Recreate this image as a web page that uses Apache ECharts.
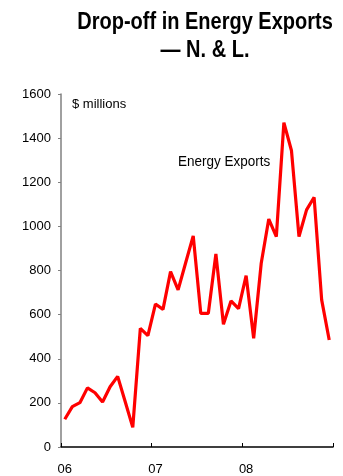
<!DOCTYPE html>
<html lang="en">
<head>
  <meta charset="UTF-8">
  <title>Drop-off in Energy Exports</title>
  <script src="https://cdn.jsdelivr.net/npm/echarts@6/dist/echarts.min.js"></script>
  <style>
    html, body { margin: 0; padding: 0; background: #fff; }
  </style>
</head>
<body>
  <div id="app" style="width: 343px; height: 476px;"></div>
  <script>
    // monthly, Jan 2006 - Dec 2008, $ millions
    var months = []
    var years = ['06', '07', '08']
    years.forEach(function (y) {
      for (var m = 1; m <= 12; m++) months.push(y + '-' + m)
    })
    var exportsData = [
      126, 183, 201, 268, 246, 204, 273, 320, 205, 89, 538, 505,
      648, 624, 795, 712, 835, 957, 606, 606, 875, 556, 662, 627,
      777, 493, 833, 1033, 954, 1470, 1344, 954, 1075, 1132, 667, 485
    ]
    var yTicks = { min: 0, max: 1600, interval: 200 }

    var font = 'Liberation Sans, Arial, sans-serif'
    var mCharts = echarts.init(document.querySelector('#app'))

    var option = {
      animation: false,
      grid: { left: 61, right: 10, top: 94, bottom: 29 },
      graphic: [
        {
          type: 'text', x: 205, y: 23, scaleY: 1.15,
          style: { text: 'Drop-off in Energy Exports', font: 'bold 20px ' + font, fill: '#000', align: 'center', verticalAlign: 'middle' }
        },
        {
          type: 'text', x: 205, y: 51, scaleY: 1.15,
          style: { text: '— N. & L.', font: 'bold 20px ' + font, fill: '#000', align: 'center', verticalAlign: 'middle' }
        },
        {
          type: 'text', x: 72, y: 104,
          style: { text: '$ millions', font: '13px ' + font, fill: '#000', verticalAlign: 'middle' }
        },
        {
          type: 'text', x: 178, y: 162, scaleY: 1.1,
          style: { text: 'Energy Exports', font: '13.5px ' + font, fill: '#000', verticalAlign: 'middle' }
        }
      ],
      xAxis: {
        type: 'category',
        data: months,
        boundaryGap: true,
        axisLine: { lineStyle: { color: '#000', width: 1.5 } },
        axisTick: { show: true, inside: true, length: 4, interval: 11, lineStyle: { color: '#000' } },
        axisLabel: {
          interval: 11, margin: 16, color: '#000', fontSize: 13, fontFamily: font,
          formatter: function (v) { return v.split('-')[0] }
        },
        splitLine: { show: false }
      },
      yAxis: {
        type: 'value',
        min: yTicks.min, max: yTicks.max, interval: yTicks.interval,
        axisLine: { show: true, lineStyle: { color: '#808080', width: 1.5 } },
        axisTick: { show: true, length: 3, lineStyle: { color: '#808080' } },
        axisLabel: {
          margin: 10, color: '#000', fontSize: 13, fontFamily: font,
          formatter: function (v) { return String(v) }
        },
        splitLine: { show: false }
      },
      series: [
        {
          type: 'line',
          data: exportsData,
          symbol: 'none',
          lineStyle: { color: '#ff0000', width: 3.2 }
        }
      ]
    }
    mCharts.setOption(option)
  </script>
</body>
</html>
